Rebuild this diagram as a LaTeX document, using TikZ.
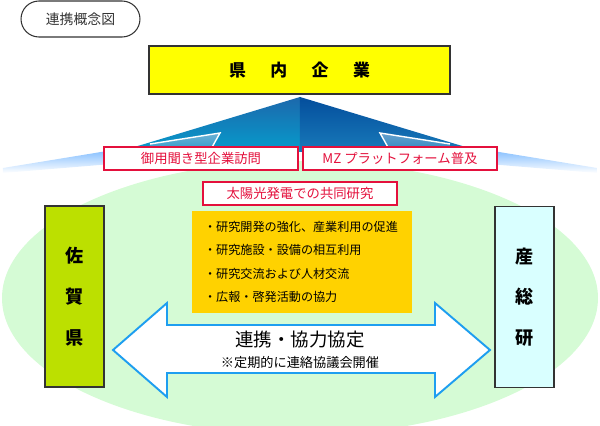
\documentclass[tikz,border=0pt]{standalone}
\usepackage{fontspec}
\setmainfont{Noto Sans CJK JP}
\usetikzlibrary{positioning}
\definecolor{kyellow}{HTML}{FFFF00}
\definecolor{kred}{HTML}{E4103C}
\definecolor{korange}{HTML}{FFD200}
\definecolor{kgreen}{HTML}{D5FBD5}
\definecolor{ksaga}{HTML}{BCE000}
\definecolor{kaist}{HTML}{D9FFFF}
\definecolor{kgray}{HTML}{333333}
\definecolor{karrow}{HTML}{1E9EF0}

\begin{document}
\begin{tikzpicture}[x=0.02cm,y=-0.02cm,
    redbox/.style={draw=kred, fill=white, line width=0.6pt, text=kred, inner sep=0pt,
      minimum width=3.88cm, minimum height=0.46cm, font=\fontsize{7.6}{9}\selectfont},
    sidebox/.style={draw=kgray, line width=0.7pt, inner sep=0pt, align=center,
      minimum width=1.18cm, minimum height=3.62cm, font=\fontsize{10.3}{23.2}\selectfont\bfseries}]
  \useasboundingbox (0,0) rectangle (600,426);
  \begin{scope}
    \clip (0,0) rectangle (600,426);
    \fill[kgreen] (300,298) ellipse [x radius=298, y radius=137];
  \end{scope}

  \shade[top color=white!40!cyan!60!blue!80, bottom color=white] (3,168) -- (150,144) -- (208,156) -- (3,173) -- cycle;
  \shade[top color=white!40!cyan!60!blue!80, bottom color=white] (597,168) -- (450,144) -- (392,156) -- (597,173) -- cycle;
  \shade[top color={rgb,255:red,28;green,104;blue,172}, bottom color={rgb,255:red,6;green,156;blue,204}]
    (300,97) -- (118,152) -- (300,152) -- cycle;
  \shade[top color={rgb,255:red,4;green,78;blue,156}, bottom color={rgb,255:red,24;green,122;blue,186}]
    (300,97) -- (482,152) -- (300,152) -- cycle;
  \shade[top color={rgb,255:red,110;green,176;blue,212}, bottom color={rgb,255:red,20;green,150;blue,200}]
    (150,144) -- (220,133) -- (206,158) -- (150,158) -- cycle;
  \shade[top color={rgb,255:red,100;green,160;blue,205}, bottom color={rgb,255:red,30;green,130;blue,190}]
    (450,144) -- (380,133) -- (394,158) -- (450,158) -- cycle;
  \draw[white, line width=0.8pt] (150,144) -- (220,133) -- (206,158);
  \draw[white, line width=0.8pt] (450,144) -- (380,133) -- (394,158);

  \node[draw=kgray, line width=0.6pt, rounded corners=0.36cm, minimum width=2.38cm, minimum height=0.72cm,
    text=kgray, font=\fontsize{7.9}{9}\selectfont] (title) at (80.5,19) {連携概念図};
  \node[draw=kgray, fill=kyellow, line width=0.7pt, minimum width=6.02cm, minimum height=0.96cm,
    font=\fontsize{9.6}{11}\selectfont\bfseries] (kennai) at (299.5,70)
    {県\hspace{1.45em}内\hspace{1.45em}企\hspace{1.45em}業};

  \node[redbox] (visit) at (201,158.5) {御用聞き型企業訪問};
  \node[redbox] (mz) at (400,158.5) {MZ プラットフォーム普及};
  \node[redbox] (solar) at (300,193.5) {太陽光発電での共同研究};

  \node[fill=korange, minimum width=4.4cm, minimum height=2.04cm, inner xsep=0.24cm, text width=3.92cm,
    align=left, font=\fontsize{6.9}{13.3}\selectfont] (items) at (302,262)
    {・研究開発の強化、産業利用の促進\\・研究施設・設備の相互利用\\・研究交流および人材交流\\・広報・啓発活動の協力};

  \node[sidebox, fill=ksaga] (saga) at (74.5,296.5) {佐\\賀\\県};
  \node[sidebox, fill=kaist] (aist) at (524.5,297) {産\\総\\研};

  \draw[karrow, fill=white, line width=1.1pt, line join=miter]
    (113,350) -- (167,303) -- (167,325) -- (435,325) -- (435,303) -- (490,350)
    -- (435,397) -- (435,373) -- (167,373) -- (167,397) -- cycle;
  \node[font=\fontsize{10.5}{12}\selectfont] (pact) at (300,340) {連携・協力協定};
  \node[font=\fontsize{7.5}{9}\selectfont] (note) at (300,363) {※定期的に連絡協議会開催};
\end{tikzpicture}
\end{document}
